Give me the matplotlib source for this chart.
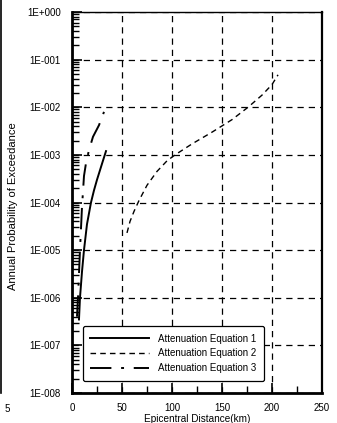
import matplotlib
matplotlib.use("Agg")
import matplotlib.pyplot as plt
from matplotlib.lines import Line2D

plt.rcParams['font.family'] = ['Liberation Sans', 'DejaVu Sans']

# distance (km) / annual probability of exceedance
dist_eq1 = [7, 8, 10, 12, 15, 19, 22, 25, 30, 34]
prob_eq1 = [3.5e-7, 1e-6, 3.5e-6, 1e-5, 3.5e-5, 1e-4, 1.8e-4, 3e-4, 6.5e-4, 1.2e-3]

dist_eq2 = [55, 58, 62, 67, 75, 85, 95, 103, 120, 140, 160, 176, 190, 200, 206]
prob_eq2 = [2.3e-5, 4e-5, 6.5e-5, 1.1e-4, 2.3e-4, 4.5e-4, 7.5e-4, 1.0e-3,
            1.7e-3, 3.0e-3, 5.5e-3, 1.0e-2, 1.8e-2, 3.0e-2, 4.8e-2]

dist_eq3 = [5, 6, 8, 10, 12, 14, 17, 21, 27, 32]
prob_eq3 = [4e-7, 1e-6, 1e-5, 8e-5, 3.6e-4, 6.7e-4, 1.26e-3, 2.4e-3, 4.2e-3, 8e-3]

series_names = ["Attenuation Equation 1", "Attenuation Equation 2", "Attenuation Equation 3"]

x_ticks = [0, 50, 100, 150, 200, 250]
y_ticks = [1e-8, 1e-7, 1e-6, 1e-5, 1e-4, 1e-3, 1e-2, 1e-1, 1e0]
y_tick_labels = ["1E-008", "1E-007", "1E-006", "1E-005", "1E-004",
                 "1E-003", "1E-002", "1E-001", "1E+000"]

fig = plt.figure(figsize=(3.37, 4.23), dpi=100)
ax = fig.add_axes([0.2136, 0.0709, 0.742, 0.9007])

ax.plot(dist_eq1, prob_eq1, color='k', lw=1.4, ls='-', label=series_names[0])
ax.plot(dist_eq2, prob_eq2, color='k', lw=1.0, ls=(0, (4, 3)), label=series_names[1])
ax.plot(dist_eq3, prob_eq3, color='k', lw=1.4, ls=(0, (11, 5, 1.5, 5)), label=series_names[2])

ax.set_yscale('log')
ax.set_xlim(0, 250)
ax.set_ylim(1e-8, 1)
ax.set_xticks(x_ticks)
ax.set_xticks([25, 75, 125, 175, 225], minor=True)
ax.set_yticks(y_ticks)
ax.set_yticklabels(y_tick_labels)

ax.grid(True, which='major', color='k', ls=(0, (5, 4)), lw=0.9)
ax.tick_params(axis='both', which='major', direction='in', length=7, width=1.2,
               labelsize=7, pad=8, colors='k')
ax.tick_params(axis='both', which='minor', direction='in', length=5, width=1.0)
ax.tick_params(axis='x', which='major', pad=7)

for side in ['left', 'bottom']:
    ax.spines[side].set_linewidth(2.0)
ax.spines['right'].set_linewidth(1.6)
ax.spines['top'].set_linewidth(1.0)

ax.set_xlabel("Epicentral Distance(km)", fontsize=7.2, labelpad=1)
ax.set_ylabel("Annual Probability of Exceedance", fontsize=8)
ax.yaxis.set_label_coords(-0.215, 0.49)

leg = ax.legend(loc='lower left', bbox_to_anchor=(0.025, 0.02), fontsize=7,
                handlelength=6.0, handletextpad=1.0, labelspacing=0.5,
                borderpad=0.75, fancybox=True, framealpha=1, edgecolor='k')
leg.get_frame().set_linewidth(0.9)

# bits of the neighbouring chart at the left edge
fig.add_artist(Line2D([0.004, 0.004], [0.071, 1.0], color='k', lw=1.2))
fig.text(0.021, 0.033, "5", fontsize=7, ha='center', va='center')

fig.savefig("out.png", dpi=100)
